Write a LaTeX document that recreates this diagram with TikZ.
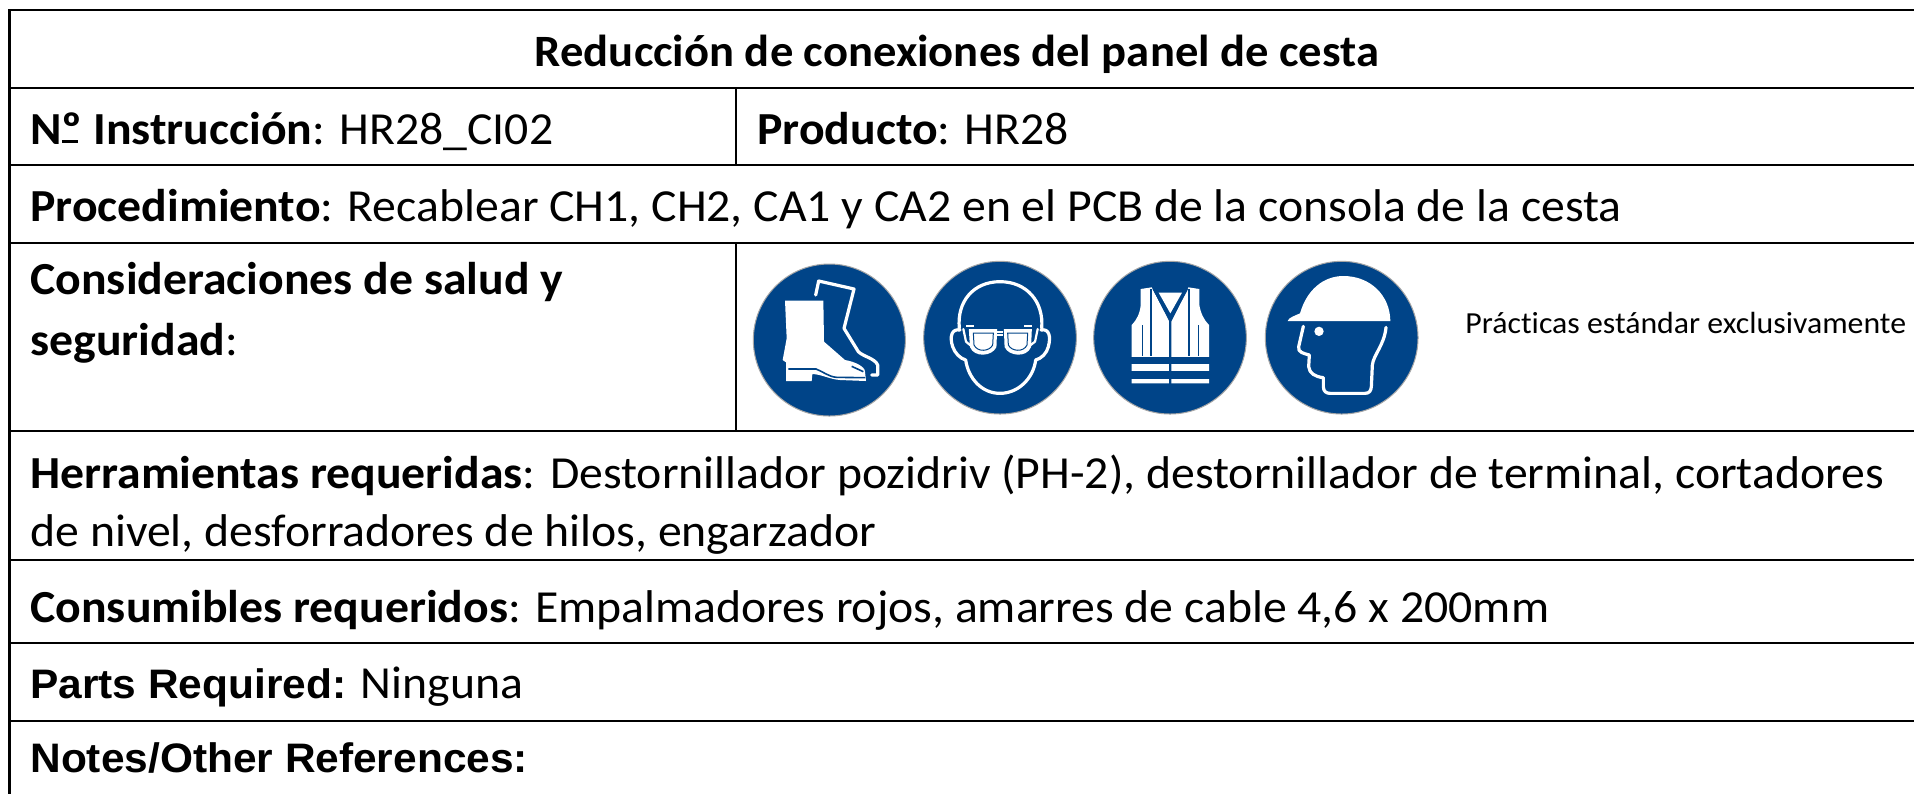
\documentclass[tikz,border=0pt]{standalone}
\usepackage{fontspec}
\setmainfont{Carlito}[FakeStretch=1.04,Ligatures=CommonOff]
\newfontfamily\arialf{Liberation Sans}[FakeStretch=1.03]
\definecolor{signblue}{HTML}{004488}
\tikzset{
 rulel/.style={line width=1.4pt,black},
 txt/.style={anchor=base west,inner sep=0pt,font=\fontsize{22.95}{26}\selectfont},
 title/.style={anchor=base,inner sep=0pt,font=\fontsize{22.4}{26}\selectfont\bfseries},
 small/.style={anchor=base west,inner sep=0pt,font=\fontsize{15.3}{17}\selectfont},
 disc/.style={fill=signblue,draw=gray!70,line width=0.5pt},
 wl/.style={draw=white,line width=1.6pt,line cap=round,line join=round},
 wf/.style={fill=white},
 bl/.style={draw=signblue,line width=0.8pt},
 icon/.style={x=0.16667pt,y=-0.16667pt},
}
\begin{document}
\begin{tikzpicture}[x=0.5pt,y=-0.5pt]
\useasboundingbox (0,0) rectangle (1914,794);
\fill[white] (0,0) rectangle (1914,794);
% table rules
\draw[rulel] (1914,10) -- (9.5,10) -- (9.5,794);
\foreach \yy in {88,165,243,431,560,643,721} \draw[rulel] (9.5,\yy) -- (1914,\yy);
\draw[rulel] (736,88) -- (736,165);
\draw[rulel] (736,243) -- (736,431);
% text
\node[title] (t0) at (957,66) {Reducción de conexiones del panel de cesta};
\node[txt] (t1) at (30,144) {\textbf{N\rlap{\rule[0.02em]{0.36em}{0.06em}}º Instrucción}: HR28\_CI02};
\node[txt] (t2) at (757,144) {\textbf{Producto}: HR28};
\node[txt] (t3) at (30,221) {\textbf{Procedimiento}: Recablear CH1, CH2, CA1 y CA2 en el PCB de la consola de la cesta};
\node[txt] (t4) at (30,294) {\textbf{Consideraciones de salud y}};
\node[txt] (t5) at (30,355) {\textbf{seguridad}:};
\node[small] (t6) at (1465,333) {Prácticas estándar exclusivamente};
\node[txt] (t7) at (30,488) {\textbf{Herramientas requeridas}: Destornillador pozidriv (PH-2), destornillador de terminal, cortadores};
\node[txt] (t8) at (30,546) {de nivel, desforradores de hilos, engarzador};
\node[txt] (t9) at (30,622) {\textbf{Consumibles requeridos}: Empalmadores rojos, amarres de cable 4,6 x 200mm};
\node[txt] (t10) at (30,698) {{\arialf\fontsize{20.6}{23}\selectfont\bfseries Parts Required:} Ninguna};
\node[txt] (t11) at (30,772) {\arialf\fontsize{20.6}{23}\selectfont\bfseries Notes/Other References:};
% boot
\begin{scope}[shift={(730,245)},icon]
\draw[disc] (298,285) circle (228);
\fill[wf] (165,167) -- (280,167) -- (282,290) -- (345,345) .. controls (375,350) and (405,365) .. (405,380) -- (408,408) -- (330,405) .. controls (300,403) and (275,388) .. (247,387) -- (245,408) -- (168,408) -- (168,352) -- (158,345) -- (170,280) -- cycle;
\draw[bl] (175,372) -- (258,372) .. controls (280,380) and (295,395) .. (320,397) -- (405,398);
\draw[bl] (365,364) -- (400,380);
\draw[wl] (257,150) -- (266,108) -- (372,132) -- (342,250) -- (385,320) .. controls (400,335) and (435,340) .. (443,360) -- (443,390) -- (425,390);
\end{scope}
% goggles
\begin{scope}[shift={(910,245)},icon]
\draw[disc] (270,278) circle (229);
\draw[wl] (148,250) .. controls (140,170) and (190,110) .. (270,110) .. controls (350,110) and (402,170) .. (395,250);
\draw[wl] (150,255) .. controls (125,250) and (118,275) .. (128,305) .. controls (135,325) and (150,340) .. (167,345) .. controls (175,400) and (215,445) .. (270,445) .. controls (325,445) and (370,400) .. (377,345) .. controls (395,340) and (410,325) .. (415,305) .. controls (423,275) and (418,250) .. (393,255);
\fill[signblue] (155,250) rectangle (385,275);
\draw[wl,line width=1.1pt] (160,252) -- (168,290) -- (180,300);
\draw[wl,line width=1.1pt] (383,252) -- (375,290) -- (362,300);
\draw[wf,draw=white,line width=1.1pt] (180,256) -- (258,256) -- (256,305) .. controls (245,330) and (195,335) .. (183,305) -- cycle;
\draw[fill=white,draw=signblue,line width=0.5pt] (190,264) -- (250,264) -- (248,300) .. controls (238,320) and (202,322) .. (192,300) -- cycle;
\draw[wf,draw=white,line width=1.1pt] (285,256) -- (362,256) -- (360,305) .. controls (348,335) and (298,330) .. (287,305) -- cycle;
\draw[fill=white,draw=signblue,line width=0.5pt] (293,264) -- (353,264) -- (351,300) .. controls (341,322) and (305,320) .. (295,300) -- cycle;
\fill[white] (262,258) rectangle (280,263);
\fill[white] (262,268) rectangle (280,273);
\fill[white] (168,240) rectangle (192,245);
\fill[white] (342,240) rectangle (366,245);
\end{scope}
% vest
\begin{scope}[shift={(1080,245)},icon]
\draw[disc] (270,278) circle (229);
\fill[wf] (182,132) -- (215,127) -- (268,230) -- (268,415) -- (155,415) -- (155,240) .. controls (170,225) and (180,205) .. (182,180) -- cycle;
\fill[wf] (358,132) -- (325,127) -- (274,230) -- (274,415) -- (387,415) -- (387,240) .. controls (372,225) and (362,205) .. (358,180) -- cycle;
\fill[wf] (236,143) -- (306,143) -- (271,205) -- cycle;
\draw[bl,line width=1pt] (214,132) -- (214,333);
\draw[bl,line width=1pt] (328,132) -- (328,333);
\draw[bl,line width=1pt] (220,130) -- (271,225) -- (322,130);
\draw[bl,line width=0.3pt] (186,240) -- (186,333);
\draw[bl,line width=0.3pt] (356,240) -- (356,333);
\fill[signblue] (150,335) rectangle (392,357);
\fill[signblue] (150,378) rectangle (392,401);
\fill[signblue] (268,225) rectangle (274,420);
\end{scope}
% helmet
\begin{scope}[shift={(1250,245)},icon]
\draw[disc] (275,278) circle (229);
\fill[wf] (113,228) .. controls (115,218) and (135,212) .. (150,205) .. controls (170,135) and (220,93) .. (280,93) .. controls (360,93) and (420,150) .. (421,228) -- cycle;
\fill[wf] (207,259) circle (14);
\draw[wl] (160,244) -- (146,305) .. controls (143,322) and (160,325) .. (178,330) -- (176,365) .. controls (178,385) and (195,395) .. (220,398) -- (220,425) .. controls (220,440) and (230,445) .. (240,445) -- (345,445) .. controls (358,445) and (363,437) .. (364,425) -- (367,360) .. controls (370,330) and (403,300) .. (408,247);
\end{scope}
\end{tikzpicture}
\end{document}
